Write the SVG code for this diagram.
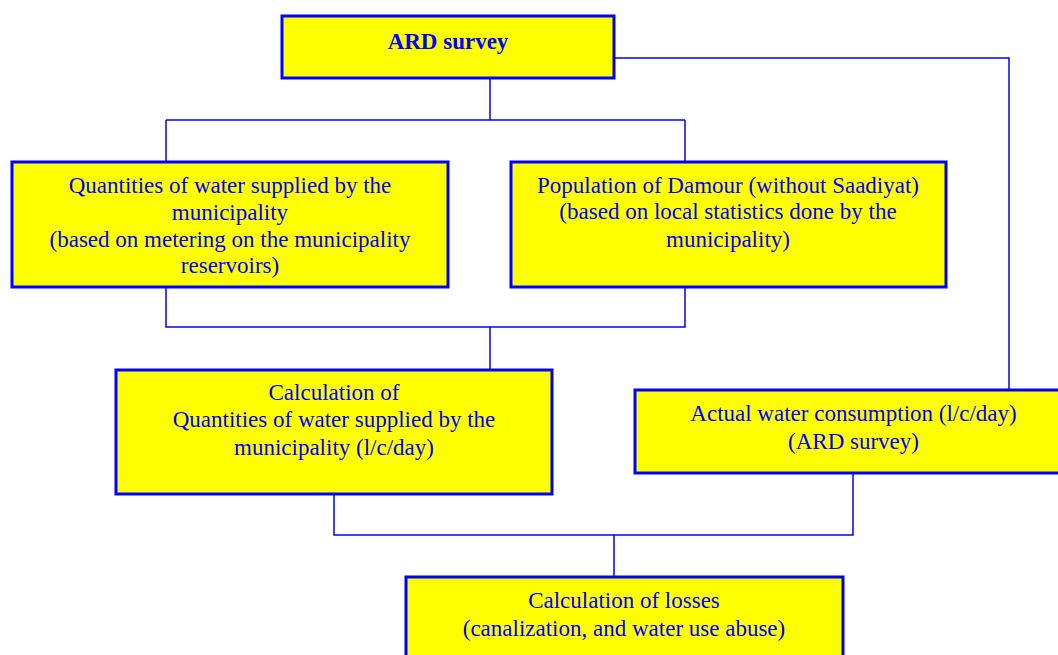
<svg xmlns="http://www.w3.org/2000/svg" width="1058" height="655" viewBox="0 0 1058 655">
<style>
.box{fill:#ffff00;stroke:#0000ff;stroke-width:3}
.t{font-family:"Liberation Serif","Times New Roman",serif;font-size:23px;fill:#0000ff;text-anchor:middle}
.b{font-weight:bold}
.c{fill:none;stroke:#0000ff;stroke-width:1.5}
</style>
<rect width="1058" height="655" fill="#ffffff"/>
<g id="connectors">
<path class="c" d="M490,78 V120 M166,120 H685 M166,120 V161 M685,120 V161"/>
<path class="c" d="M614,58 H1009 V390"/>
<path class="c" d="M166,287 V327 H685 V287 M490,327 V370"/>
<path class="c" d="M334,494 V535 H853 V473 M614,535 V577"/>
</g>
<g id="ard-survey">
<rect class="box" x="282" y="16" width="332" height="62"/>
<text class="t b" x="448" y="49">ARD survey</text>
</g>
<g id="quantities">
<rect class="box" x="12" y="162" width="436" height="125"/>
<text class="t" x="230" y="192.5">Quantities of water supplied by the</text>
<text class="t" x="230" y="219.5">municipality</text>
<text class="t" x="230" y="246.5">(based on metering on the municipality</text>
<text class="t" x="230" y="273">reservoirs)</text>
</g>
<g id="population">
<rect class="box" x="511" y="162" width="435" height="125"/>
<text class="t" x="728" y="192.5">Population of Damour (without Saadiyat)</text>
<text class="t" x="728" y="219">(based on local statistics done by the</text>
<text class="t" x="728" y="246.5">municipality)</text>
</g>
<g id="calc-quantities">
<rect class="box" x="116" y="370" width="436" height="124"/>
<text class="t" x="334" y="400">Calculation of</text>
<text class="t" x="334" y="427">Quantities of water supplied by the</text>
<text class="t" x="334" y="454.5">municipality (l/c/day)</text>
</g>
<g id="actual-consumption">
<rect class="box" x="635" y="390" width="437" height="83"/>
<text class="t" x="853.5" y="420.5">Actual water consumption (l/c/day)</text>
<text class="t" x="853.5" y="449">(ARD survey)</text>
</g>
<g id="calc-losses">
<rect class="box" x="406" y="577" width="437" height="100"/>
<text class="t" x="624" y="608">Calculation of losses</text>
<text class="t" x="624" y="636">(canalization, and water use abuse)</text>
</g>
</svg>
